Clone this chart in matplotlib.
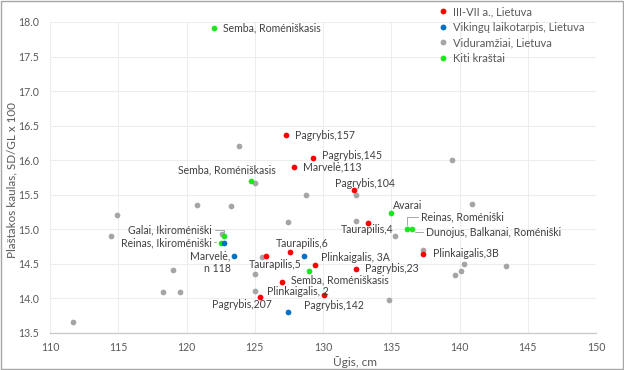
import matplotlib
matplotlib.use("Agg")
import matplotlib.pyplot as plt
from matplotlib.patches import Rectangle
from matplotlib.lines import Line2D

plt.rcParams['font.family'] = ['Lato', 'DejaVu Sans']

# ---------------- data ----------------
red_x = [127.3, 129.3, 127.9, 132.3, 133.3, 127.6, 125.8, 129.4, 132.4, 127.0, 130.1, 125.4, 137.3]
red_y = [16.36, 16.03, 15.90, 15.56, 15.09, 14.67, 14.61, 14.48, 14.42, 14.23, 14.05, 14.01, 14.64]
red_lab = ["Pagrybis,157", "Pagrybis,145", "Marvelė,113", "Pagrybis,104", "Taurapilis,4",
           "Taurapilis,6", "Taurapilis,5", "Plinkaigalis, 3A", "Pagrybis,23", "Plinkaigalis, 2",
           "Pagrybis,142", "Pagrybis,207", "Plinkaigalis,3B"]

blue_x = [122.75, 123.45, 128.6, 127.4]
blue_y = [14.80, 14.61, 14.61, 13.80]
blue_lab = [None, "Marvelė,\nn 118", None, None]

gray_x = [111.7, 114.5, 114.9, 119.0, 118.3, 119.5, 120.8, 123.85, 123.25, 125.05, 128.75,
          127.45, 132.4, 132.4, 135.3, 122.6, 125.5, 125.05, 125.05, 134.85, 140.95, 139.45,
          137.3, 140.3, 140.1, 139.7, 143.4]
gray_y = [13.65, 14.90, 15.20, 14.41, 14.09, 14.09, 15.35, 16.21, 15.34, 15.67, 15.49,
          15.10, 15.49, 15.12, 14.90, 14.93, 14.59, 14.35, 14.10, 13.98, 15.37, 16.00,
          14.70, 14.50, 14.40, 14.33, 14.47]

green_x = [122.05, 124.75, 122.75, 122.5, 129.0, 135.0, 136.15, 136.5]
green_y = [17.91, 15.70, 14.90, 14.80, 14.40, 15.24, 15.00, 15.00]
green_lab = ["Semba, Roméniškasis", "Semba, Roméniškasis", "Galai, Ikiroméniški",
             "Reinas, Ikiroméniški", "Semba, Roméniškasis", "Avarai", "Reinas, Roméniški",
             "Dunojus, Balkanai, Roméniški"]

series_names = ["III-VII a., Lietuva", "Vikingų laikotarpis, Lietuva",
                "Viduramžiai, Lietuva", "Kiti kraštai"]

x_ticks = [110, 115, 120, 125, 130, 135, 140, 145, 150]
y_ticks = [13.5, 14.0, 14.5, 15.0, 15.5, 16.0, 16.5, 17.0, 17.5, 18.0]

# ---------------- style ----------------
C_RED, C_BLUE, C_GRAY, C_GREEN = '#FF0000', '#0070C0', '#A5A5A5', '#1EE61E'
TXT = '#595959'
LAB = '#404040'
FS = 7.6
MS = 17

fig = plt.figure(figsize=(6.24, 3.70), dpi=100)
ax = fig.add_axes([50/624, 1-332.7/370, 546/624, 310.7/370])

ax.scatter(gray_x, gray_y, s=MS, color=C_GRAY, zorder=3, linewidths=0)
ax.scatter(green_x, green_y, s=MS, color=C_GREEN, zorder=4, linewidths=0)
ax.scatter(red_x, red_y, s=MS, color=C_RED, zorder=5, linewidths=0)
ax.scatter(blue_x, blue_y, s=MS, color=C_BLUE, zorder=5, linewidths=0)

ax.set_xlim(110, 150)
ax.set_ylim(13.5, 18.0)
ax.set_xticks(x_ticks)
ax.set_yticks(y_ticks)
ax.set_xticklabels([str(v) for v in x_ticks])
ax.set_yticklabels([f"{v:.1f}" for v in y_ticks])
ax.tick_params(axis='both', length=0, labelsize=FS, colors=TXT)
ax.tick_params(axis='x', pad=7)
ax.tick_params(axis='y', pad=8)
ax.grid(True, color='#EDEDED', linewidth=0.8, zorder=0)
ax.set_axisbelow(True)
for sp in ['top', 'right']:
    ax.spines[sp].set_visible(False)
ax.spines['left'].set_color('#EDEDED')
ax.spines['bottom'].set_color('#C8C8C8')
ax.spines['left'].set_linewidth(0.8)
ax.spines['bottom'].set_linewidth(0.9)

ax.set_xlabel("Ūgis, cm", fontsize=8.6, color=TXT)
ax.xaxis.set_label_coords((355-50)/546, -(361.7-332.7)/310.7, transform=ax.transAxes)
ax.xaxis.label.set_va('center')
ax.set_ylabel("Plaštakos kaulas, SD/GL x 100", fontsize=8.4, color=TXT)
ax.yaxis.set_label_coords(-(50-12)/546, (332.7-180)/310.7, transform=ax.transAxes)
ax.yaxis.label.set_va('center')

# ---------------- labels: (text offset in pixels dx, dy(up), ha) ----------------
def lab(x, y, text, dx, dy, ha='left', va='center', leader=None):
    kw = {}
    if leader is not None:
        kw['arrowprops'] = dict(arrowstyle='-', color='#A6A6A6', lw=0.7,
                                shrinkA=0, shrinkB=leader, connectionstyle='angle,angleA=0,angleB=90,rad=0')
    ax.annotate(text, (x, y), xytext=(dx*0.72, dy*0.72), textcoords='offset points',
                ha=ha, va=va, fontsize=FS, color=LAB, zorder=6, **kw)

red_off = [(9, 0, 'left'), (9, 3, 'left'), (9, 0, 'left'), (11, 7, 'center'),
           (-1, -6.5, 'center'), (12, 8, 'center'), (10, -8, 'center'), (6, 7.5, 'left'),
           (9, 1, 'left'), (16, -9, 'center'), (10, -11, 'center'), (-18, -7, 'center'),
           (10, 0, 'left')]
for x, y, t, (dx, dy, ha) in zip(red_x, red_y, red_lab, red_off):
    lab(x, y, t, dx, dy, ha)

for x, y, t in zip(blue_x, blue_y, blue_lab):
    if t:
        ax.annotate(t, (x, y), xytext=(-3*0.72, -6*0.72), textcoords='offset points',
                    ha='right', va='center', fontsize=FS, color=LAB, multialignment='right',
                    linespacing=1.15, zorder=6)

green_off = [(9, 0, 'left', None), (-24, 10.5, 'center', None), (-12, 6, 'right', 3),
             (-9, 0.5, 'right', 3), (-18, -9, 'left', None), (2, 7, 'left', None),
             (14, 12, 'left', 3), (14, -3, 'left', 3)]
for x, y, t, (dx, dy, ha, ld) in zip(green_x, green_y, green_lab, green_off):
    lab(x, y, t, dx, dy, ha, leader=ld)

# ---------------- legend ----------------
handles = [Line2D([], [], marker='o', linestyle='none', markersize=4.2, markeredgewidth=0,
                  color=c) for c in (C_RED, C_BLUE, C_GRAY, C_GREEN)]
fig.legend(handles, series_names, loc='upper left', bbox_to_anchor=(437/624, 1-6/370),
           frameon=False, fontsize=FS + 0.4, labelcolor=TXT, handlelength=1.0,
           handletextpad=0.45, labelspacing=0.42, borderaxespad=0, borderpad=0)

fig.add_artist(Rectangle((0.0016, 0.0027), 0.9968, 0.9946, transform=fig.transFigure,
                         fill=False, edgecolor='#A6A6A6', linewidth=1.0))

fig.savefig("out.png", dpi=100)
